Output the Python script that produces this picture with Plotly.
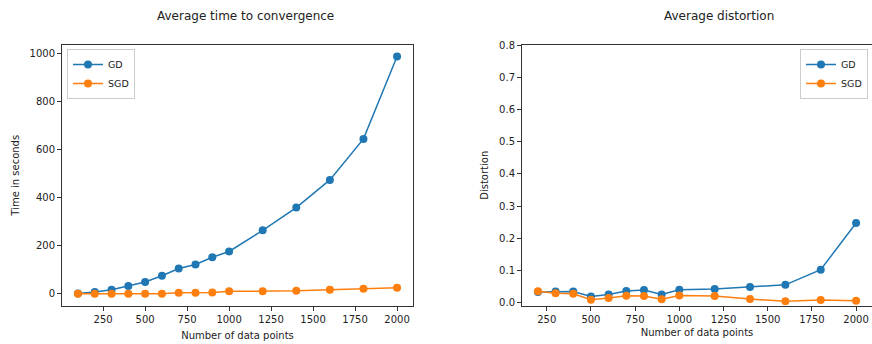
import plotly.graph_objects as go

# Left chart data
n_left = [100, 200, 300, 400, 500, 600, 700, 800, 900, 1000, 1200, 1400, 1600, 1800, 2000]
gd_time = [2, 8, 18, 33, 50, 76, 106, 123, 153, 177, 265, 360, 475, 646, 989]
sgd_time = [1, 1, 1, 1, 1, 1, 5, 5, 6, 11, 11, 13, 18, 22, 26]

# Right chart data
n_right = [200, 300, 400, 500, 600, 700, 800, 900, 1000, 1200, 1400, 1600, 1800, 2000]
gd_dist = [0.034, 0.035, 0.035, 0.020, 0.026, 0.037, 0.040, 0.026, 0.041, 0.043, 0.049, 0.056, 0.103, 0.248]
sgd_dist = [0.036, 0.030, 0.028, 0.010, 0.015, 0.022, 0.021, 0.011, 0.023, 0.021, 0.012, 0.005, 0.009, 0.007]

blue = "#1f77b4"
orange = "#ff7f0e"
W, H = 872, 344
FONT = "DejaVu Sans"

fig = go.Figure()
mk = dict(size=8)
fig.add_trace(go.Scatter(x=n_left, y=gd_time, mode="lines+markers", name="GD",
                         line=dict(color=blue, width=1.5), marker=dict(color=blue, **mk),
                         xaxis="x", yaxis="y", legend="legend"))
fig.add_trace(go.Scatter(x=n_left, y=sgd_time, mode="lines+markers", name="SGD",
                         line=dict(color=orange, width=1.5), marker=dict(color=orange, **mk),
                         xaxis="x", yaxis="y", legend="legend"))
fig.add_trace(go.Scatter(x=n_right, y=gd_dist, mode="lines+markers", name="GD",
                         line=dict(color=blue, width=1.5), marker=dict(color=blue, **mk),
                         xaxis="x2", yaxis="y2", legend="legend2"))
fig.add_trace(go.Scatter(x=n_right, y=sgd_dist, mode="lines+markers", name="SGD",
                         line=dict(color=orange, width=1.5), marker=dict(color=orange, **mk),
                         xaxis="x2", yaxis="y2", legend="legend2"))

ax_common = dict(showgrid=False, zeroline=False, showline=True, linecolor="#333333", linewidth=1,
                 mirror=True, ticks="outside", ticklen=4, tickcolor="#333333", automargin=False,
                 tickfont=dict(family=FONT, size=10, color="#222222"))

ydom = [1 - 305.5 / H, 1 - 45 / H]
fig.update_layout(
    width=W, height=H, margin=dict(l=0, r=0, t=0, b=0, autoexpand=False),
    paper_bgcolor="white", plot_bgcolor="white",
    font=dict(family=FONT, size=10, color="#222222"),
    xaxis=dict(domain=[62 / W, 413 / W], range=[5, 2095],
               tickvals=[250, 500, 750, 1000, 1250, 1500, 1750, 2000],
               title=dict(text="Number of data points", font=dict(family=FONT, size=10), standoff=8),
               anchor="y", **ax_common),
    yaxis=dict(domain=ydom, range=[-48, 1037], tickvals=[0, 200, 400, 600, 800, 1000],
               title=dict(text="Time in seconds", font=dict(family=FONT, size=10), standoff=8),
               anchor="x", **ax_common),
    xaxis2=dict(domain=[522 / W, 1.0], range=[110, 2090],
                tickvals=[250, 500, 750, 1000, 1250, 1500, 1750, 2000],
                title=dict(text="Number of data points", font=dict(family=FONT, size=10), standoff=5),
                anchor="y2", **ax_common),
    yaxis2=dict(domain=ydom, range=[-0.0081, 0.8], tickvals=[0, 0.1, 0.2, 0.3, 0.4, 0.5, 0.6, 0.7, 0.8],
                tickformat=".1f",
                title=dict(text="Distortion", font=dict(family=FONT, size=10), standoff=8),
                anchor="x2", **ax_common),
    legend=dict(x=67 / W, y=1 - 49 / H, xanchor="left", yanchor="top",
                bgcolor="rgba(255,255,255,0.8)", bordercolor="#cccccc", borderwidth=1,
                font=dict(family=FONT, size=9.5), tracegroupgap=0, itemwidth=30),
    legend2=dict(x=868 / W, y=1 - 49 / H, xanchor="right", yanchor="top",
                 bgcolor="rgba(255,255,255,0.8)", bordercolor="#cccccc", borderwidth=1,
                 font=dict(family=FONT, size=9.5), tracegroupgap=0, itemwidth=30),
    annotations=[
        dict(text="Average time to convergence", x=245 / W, y=1 - 16 / H, xref="paper", yref="paper",
             xanchor="center", yanchor="middle", showarrow=False, font=dict(family=FONT, size=12)),
        dict(text="Average distortion", x=719 / W, y=1 - 16 / H, xref="paper", yref="paper",
             xanchor="center", yanchor="middle", showarrow=False, font=dict(family=FONT, size=12)),
    ],
)

fig.write_html("out.html")
